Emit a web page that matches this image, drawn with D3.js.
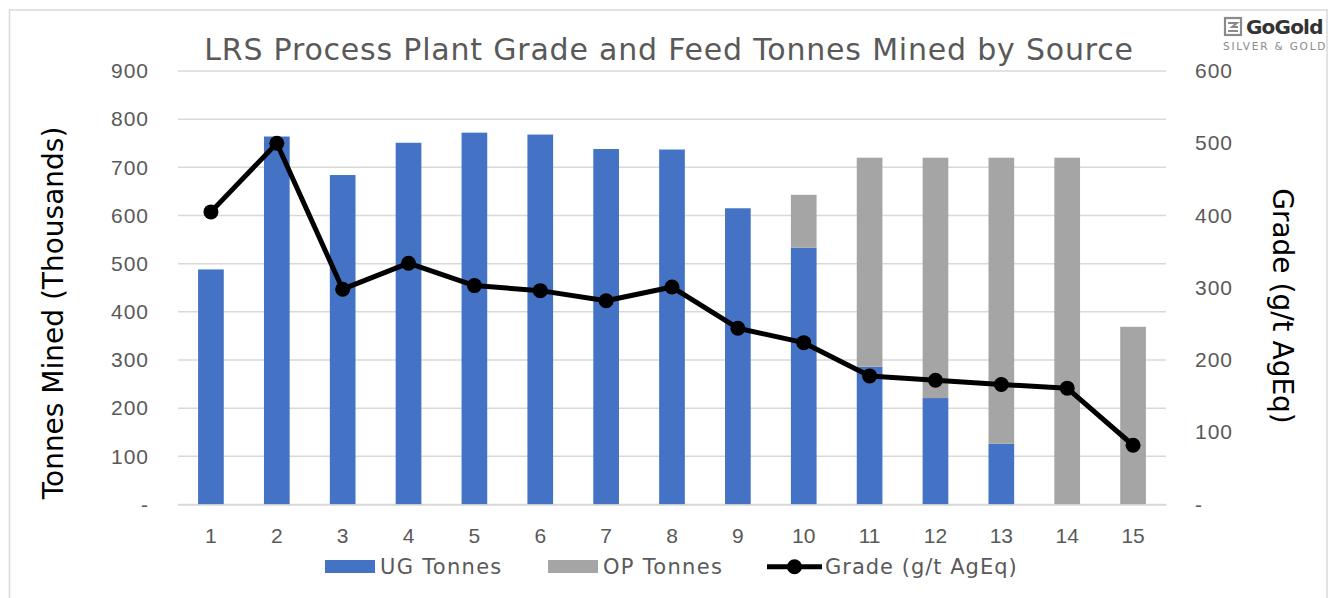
<!DOCTYPE html>
<html>
<head>
<meta charset="utf-8">
<script src="https://cdn.jsdelivr.net/npm/d3@7/dist/d3.min.js"></script>
<style>
  html, body { margin: 0; padding: 0; background: #fff; }
  svg { display: block; font-family: "DejaVu Sans", "Open Sans", sans-serif; }
</style>
</head>
<body>
<svg id="chart" width="1339" height="598"></svg>
<script>
const categories = ["1","2","3","4","5","6","7","8","9","10","11","12","13","14","15"];
const ugTonnes = [488, 764, 684, 751, 772, 768, 738, 737, 615, 533, 286, 221, 126, 0, 0];
const opTonnes = [0, 0, 0, 0, 0, 0, 0, 0, 0, 110, 434, 499, 594, 720, 369];
const grade = [405, 500, 298, 334, 303, 296, 282, 301, 244, 224, 178, 172, 166, 161, 82];
const leftTicks = [0, 100, 200, 300, 400, 500, 600, 700, 800, 900];
const rightTicks = [0, 100, 200, 300, 400, 500, 600];
const seriesNames = ["UG Tonnes", "OP Tonnes", "Grade (g/t AgEq)"];
const titleText = "LRS Process Plant Grade and Feed Tonnes Mined by Source";
const leftTitle = "Tonnes Mined (Thousands)";
const rightTitle = "Grade (g/t AgEq)";

const colors = { ug: "#4472C4", op: "#A5A5A5", grade: "#000000", grid: "#D9D9D9", text: "#595959" };

const svg = d3.select("#chart");
const M = { left: 178, right: 1166, top: 71, bottom: 504.5 };

// frame
svg.append("rect").attr("x", 9.5).attr("y", 10).attr("width", 1317.5).attr("height", 600)
  .attr("fill", "#fff").attr("stroke", "#D9D9D9").attr("stroke-width", 1.5);

const x = d3.scaleBand().domain(categories).range([M.left, M.right]).paddingInner(0.61).paddingOuter(0.305);
const yL = d3.scaleLinear().domain([0, 900]).range([M.bottom, M.top]);
const yR = d3.scaleLinear().domain([0, 600]).range([M.bottom, M.top]);

// gridlines
svg.append("g").selectAll("line").data(leftTicks).join("line")
  .attr("x1", M.left).attr("x2", M.right)
  .attr("y1", d => yL(d)).attr("y2", d => yL(d))
  .attr("stroke", colors.grid).attr("stroke-width", 1.5);

const fmt = d => d === 0 ? "-" : String(d);

// left axis
const axL = svg.append("g").attr("transform", `translate(${M.left},0)`)
  .call(d3.axisLeft(yL).tickValues(leftTicks).tickFormat(fmt).tickSize(0).tickPadding(29));
axL.select(".domain").remove();
axL.selectAll("text").attr("fill", colors.text).style("font-size", "21px")
  .style("letter-spacing", "1px").attr("font-family", null);

// right axis
const axR = svg.append("g").attr("transform", `translate(${M.right},0)`)
  .call(d3.axisRight(yR).tickValues(rightTicks).tickFormat(fmt).tickSize(0).tickPadding(29));
axR.select(".domain").remove();
axR.selectAll("text").attr("fill", colors.text).style("font-size", "21px")
  .style("letter-spacing", "1px").attr("font-family", null);

// bars
const stackData = categories.map((c, i) => ({ c, ug: ugTonnes[i], op: opTonnes[i] }));
const stack = d3.stack().keys(["ug", "op"])(stackData);
const barColors = { ug: colors.ug, op: colors.op };
svg.append("g").selectAll("g").data(stack).join("g")
  .attr("fill", d => barColors[d.key])
  .selectAll("rect").data(d => d).join("rect")
  .attr("x", d => x(d.data.c))
  .attr("width", x.bandwidth())
  .attr("y", d => yL(d[1]))
  .attr("height", d => yL(d[0]) - yL(d[1]));

// x axis labels
const axX = svg.append("g").attr("transform", `translate(0,${M.bottom})`)
  .call(d3.axisBottom(x).tickSize(0).tickPadding(24));
axX.select(".domain").attr("stroke", colors.grid).attr("stroke-width", 1.5);
axX.selectAll("text").attr("fill", colors.text).style("font-size", "21px").attr("font-family", null);

// grade line
const line = d3.line().x((d, i) => x(categories[i]) + x.bandwidth() / 2).y(d => yR(d));
svg.append("path").datum(grade).attr("d", line)
  .attr("fill", "none").attr("stroke", colors.grade).attr("stroke-width", 5).attr("stroke-linejoin", "round");
svg.append("g").selectAll("circle").data(grade).join("circle")
  .attr("cx", (d, i) => x(categories[i]) + x.bandwidth() / 2)
  .attr("cy", d => yR(d)).attr("r", 7.5).attr("fill", colors.grade);

// title
svg.append("text").attr("x", 669).attr("y", 60).attr("text-anchor", "middle")
  .attr("fill", colors.text).style("font-size", "30px").style("letter-spacing", "0.8px").text(titleText);

// axis titles
svg.append("text").attr("transform", "translate(63,313) rotate(-90)").attr("text-anchor", "middle")
  .attr("fill", "#000").style("font-size", "28px").text(leftTitle);
svg.append("text").attr("transform", "translate(1273,306) rotate(90)").attr("text-anchor", "middle")
  .attr("fill", "#000").style("font-size", "28px").text(rightTitle);

// legend
const leg = svg.append("g").style("font-size", "21px").style("letter-spacing", "1.3px").attr("fill", colors.text);
leg.append("rect").attr("x", 325).attr("y", 560).attr("width", 50).attr("height", 13).attr("fill", colors.ug);
leg.append("text").attr("x", 380).attr("y", 573.5).text(seriesNames[0]);
leg.append("rect").attr("x", 548).attr("y", 560).attr("width", 50).attr("height", 13).attr("fill", colors.op);
leg.append("text").attr("x", 603).attr("y", 573.5).text(seriesNames[1]);
leg.append("line").attr("x1", 767).attr("x2", 822).attr("y1", 566.7).attr("y2", 566.7)
  .attr("stroke", "#000").attr("stroke-width", 5);
leg.append("circle").attr("cx", 794.5).attr("cy", 566.7).attr("r", 7.5).attr("fill", "#000");
leg.append("text").attr("x", 825).attr("y", 573.5).style("letter-spacing", "1px").text(seriesNames[2]);

// logo
const logo = svg.append("g");
logo.append("rect").attr("x", 1225).attr("y", 18).attr("width", 16).attr("height", 17)
  .attr("fill", "none").attr("stroke", "#8a8a8a").attr("stroke-width", 2.2);
logo.append("path").attr("d", "M1228,23 h9 l-5,4 h6 M1228,31 h10").attr("fill", "none")
  .attr("stroke", "#8a8a8a").attr("stroke-width", 2);
logo.append("text").attr("x", 1246).attr("y", 34).attr("fill", "#333").style("font-size", "20px")
  .style("font-weight", "bold").style("letter-spacing", "-0.8px").text("GoGold");
logo.append("text").attr("x", 1223).attr("y", 49.5).attr("fill", "#8a8a8a").style("font-size", "10.5px")
  .style("letter-spacing", "1.8px").text("SILVER & GOLD");
</script>
</body>
</html>
